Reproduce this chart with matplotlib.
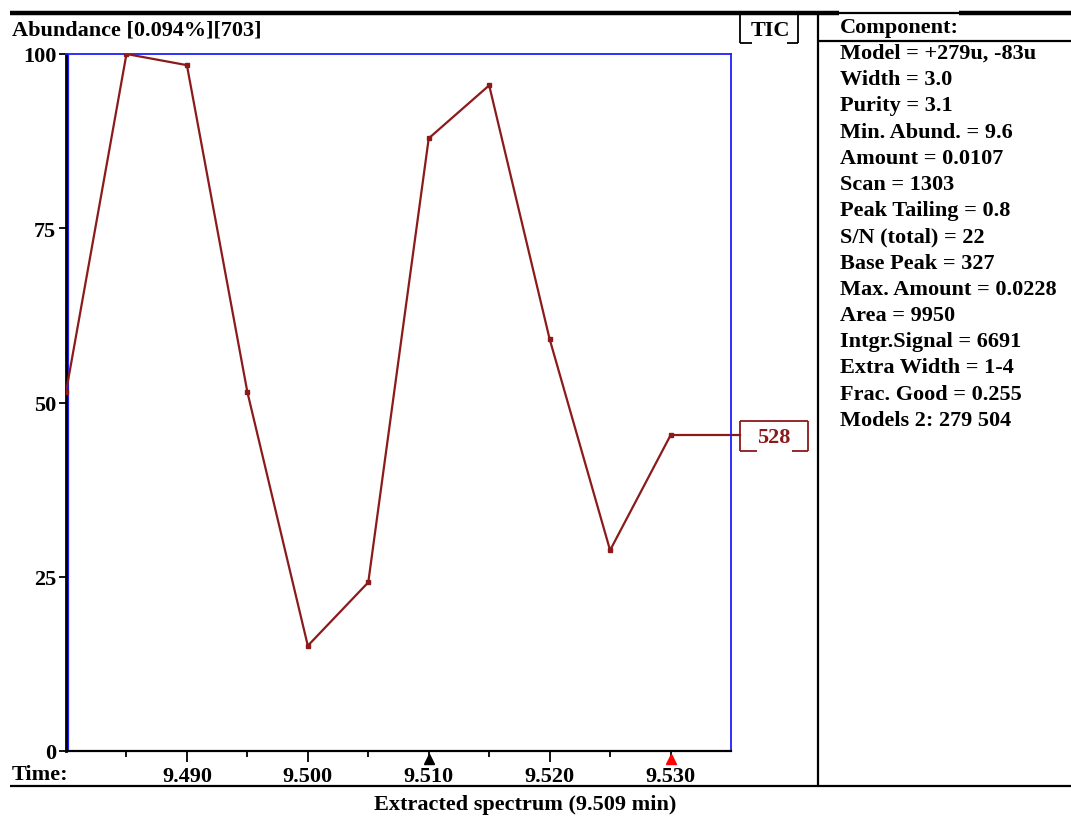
import matplotlib.pyplot as plt
import matplotlib.transforms as mtransforms
from matplotlib.lines import Line2D
from matplotlib.ticker import FixedLocator

# extracted spectrum around the component apex
times = [9.480, 9.485, 9.490, 9.495, 9.500, 9.505, 9.510, 9.515, 9.520, 9.525, 9.530]
abundance = [51.5, 100.0, 98.4, 51.5, 15.1, 24.2, 87.9, 95.5, 59.1, 28.8, 45.3]
y_ticks = [0, 25, 50, 75, 100]
x_ticks = [9.490, 9.500, 9.510, 9.520, 9.530]
x_minor = [9.485, 9.495, 9.505, 9.515, 9.525]
apex_time = 9.510
model_time = 9.530
model_ion = "528"

component_info = [
    "Model = +279u, -83u",
    "Width = 3.0",
    "Purity = 3.1",
    "Min. Abund. = 9.6",
    "Amount = 0.0107",
    "Scan = 1303",
    "Peak Tailing = 0.8",
    "S/N (total) = 22",
    "Base Peak = 327",
    "Max. Amount = 0.0228",
    "Area = 9950",
    "Intgr.Signal = 6691",
    "Extra Width = 1-4",
    "Frac. Good = 0.255",
    "Models 2: 279 504",
]

W, H = 1071, 820
line_red = "#8b1a1a"
fs = 16
font = dict(family="Liberation Serif", weight="bold", color="black")

plt.rcParams["font.family"] = "Liberation Serif"
plt.rcParams["font.weight"] = "bold"

fig = plt.figure(figsize=(W / 100, H / 100), dpi=100)
fig.patch.set_facecolor("white")


def fx(x):
    return x / W


def fy(y):
    return 1 - y / H


def seg(xs, ys, color="black", lw=1.3):
    fig.add_artist(Line2D([fx(v) for v in xs], [fy(v) for v in ys], color=color, lw=lw,
                          solid_capstyle="butt"))


# plot area
left, right, top, bottom = 66, 731, 55, 752
ax = fig.add_axes([fx(left), fy(bottom), fx(right - left), (bottom - top) / H])
ax.plot(times, abundance, color=line_red, lw=1.6, marker="s", ms=2.5, zorder=3)
ax.set_xlim(9.480, 9.535)
ax.set_ylim(0, 100)

for side in ["top", "right"]:
    ax.spines[side].set_color("#1f1fff")
    ax.spines[side].set_linewidth(1.3)
ax.spines["left"].set_color("black")
ax.spines["left"].set_linewidth(2.0)
ax.spines["bottom"].set_color("black")
ax.spines["bottom"].set_linewidth(1.6)
# blue inner edge next to the abundance axis
ax.axvline(9.480 + 0.00014, color="#1f1fff", lw=1.6, zorder=2)

ax.yaxis.set_major_locator(FixedLocator(y_ticks))
ax.xaxis.set_major_locator(FixedLocator(x_ticks))
ax.xaxis.set_minor_locator(FixedLocator(x_minor))
ax.tick_params(axis="y", direction="out", length=5, width=1.3, pad=2, labelsize=fs)
ax.tick_params(axis="x", which="major", direction="out", length=8, width=1.3, pad=3, labelsize=fs)
ax.tick_params(axis="x", which="minor", direction="out", length=4, width=1.3)
ax.set_xticklabels([f"{t:.3f}" for t in x_ticks], fontweight="bold")
ax.set_yticklabels([str(t) for t in y_ticks], fontweight="bold")

# apex and model markers under the time axis
trans = mtransforms.blended_transform_factory(ax.transData, ax.transAxes)
ax.plot([apex_time], [-0.011], marker="^", ms=7, color="black", transform=trans, clip_on=False)
ax.plot([model_time], [-0.011], marker="^", ms=7, color="red", transform=trans, clip_on=False)

# model ion label linked to the last point
label_trans = mtransforms.blended_transform_factory(fig.transFigure, ax.transData)
ax.plot([times[-1], 9.535 + 0.00075], [abundance[-1]] * 2, color=line_red, lw=1.6, clip_on=False)
ax.text(fx(774), abundance[-1] - 0.25, model_ion, transform=label_trans, ha="center", va="center",
        fontsize=fs, fontweight="bold", color=line_red)
seg([740, 808], [422, 422], line_red)
seg([740, 740], [422, 452], line_red)
seg([808, 808], [422, 452], line_red)
seg([740, 757], [452, 452], line_red)
seg([792, 808], [452, 452], line_red)

# header and footer texts
fig.text(fx(12), fy(30), "Abundance [0.094%][703]", ha="left", va="center", fontsize=fs, **font)
fig.text(fx(12), fy(775), "Time:", ha="left", va="center", fontsize=fs, **font)
fig.text(fx(525), fy(805), "Extracted spectrum (9.509 min)", ha="center", va="center", fontsize=fs, **font)
fig.text(fx(770), fy(31), "TIC", ha="center", va="center", fontsize=fs, **font)

# frame lines
seg([10, 839], [14, 14], lw=3.2)
seg([839, 959], [14, 14], lw=1.6)
seg([959, 1071], [14, 14], lw=3.2)
seg([10, 1071], [787, 787], lw=1.6)
seg([818, 818], [14, 787], lw=1.6)
seg([818, 1071], [42, 42], lw=1.6)
seg([740, 740], [14, 44])
seg([740, 752], [44, 44])
seg([787, 798], [44, 44])
seg([798, 798], [14, 44])

# component summary
fig.text(fx(840), fy(28), "Component:", ha="left", va="center", fontsize=fs, **font)
for i, line in enumerate(component_info):
    fig.text(fx(840), fy(54 + i * 26.2), line, ha="left", va="center", fontsize=fs, **font)

fig.savefig("out.png", dpi=100)
